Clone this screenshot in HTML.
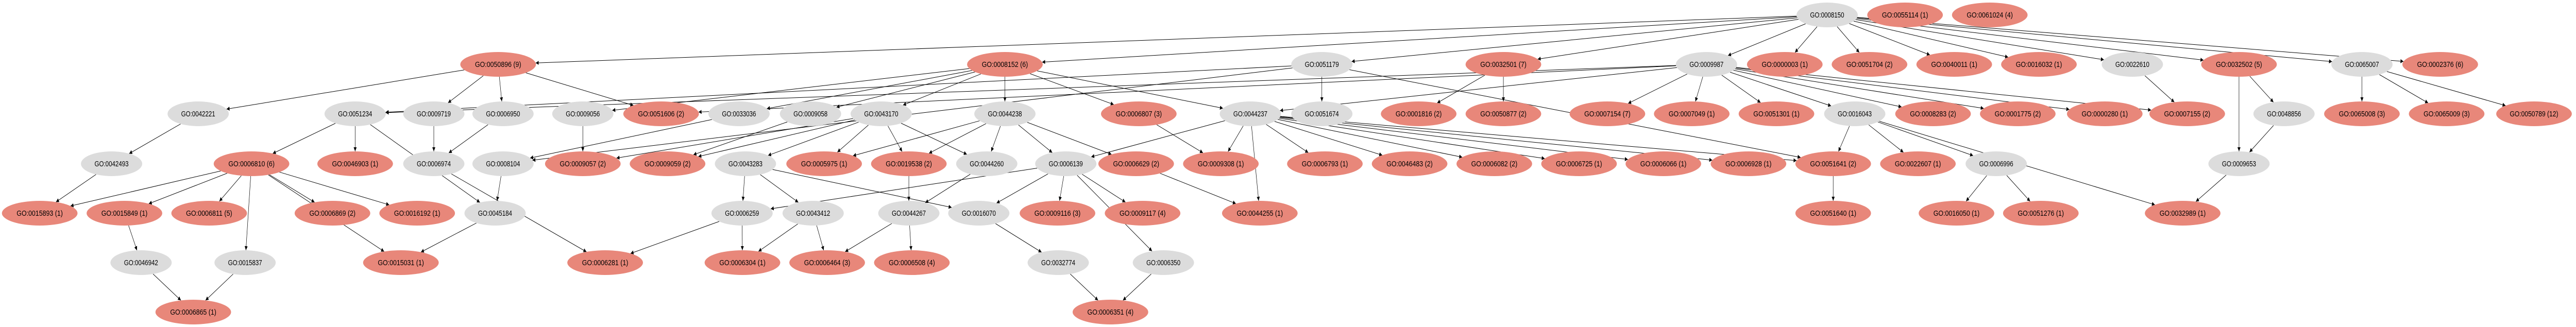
<!DOCTYPE html>
<html><head><meta charset="utf-8"><style>
html,body{margin:0;padding:0;background:#fff;width:100%;height:100%;overflow:hidden}
svg{display:block;width:100vw;height:100vh}
text{font-family:"Liberation Sans Narrow","Liberation Sans",sans-serif;font-size:15px;fill:#000}
</style></head><body>
<svg id="g" viewBox="0 0 6811 635" preserveAspectRatio="none" xmlns="http://www.w3.org/2000/svg">
<defs><marker id="a" viewBox="0 0 10 10" refX="10" refY="5" markerWidth="8" markerHeight="8" orient="auto" markerUnits="userSpaceOnUse"><path d="M0,0 L10,5 L0,10 z" fill="#000"/></marker></defs>
<g id="e"></g><g id="n"></g>
</svg>
<script>
var R=[29,125,221,318,414,510,606];
var N={
"0008150":[4831,0,0],"0055114":[5037,0,1],"0061024":[5261,0,4],
"0050896":[1317,1,9],"0008152":[2657,1,6],"0051179":[3495,1,0],"0032501":[3975,1,7],"0009987":[4512,1,0],"0000003":[4719,1,1],"0051704":[4943,1,2],"0040011":[5167,1,1],"0016032":[5391,1,1],"0022610":[5638,1,0],"0032502":[5920,1,5],"0065007":[6245,1,0],"0002376":[6452,1,6],
"0042221":[524,2,0],"0051234":[939,2,0],"0009719":[1147,2,0],"0006950":[1330,2,0],"0009056":[1541,2,0],"0051606":[1748,2,2],"0033036":[1954,2,0],"0009058":[2143,2,0],"0043170":[2330,2,0],"0044238":[2657,2,0],"0006807":[3011,2,3],"0044237":[3306,2,0],"0051674":[3495,2,0],"0001816":[3751,2,2],"0050877":[3975,2,2],"0007154":[4250,2,7],"0007049":[4473,2,1],"0051301":[4697,2,1],"0016043":[4904,2,0],"0008283":[5111,2,2],"0001775":[5335,2,2],"0000280":[5565,2,1],"0007155":[5783,2,2],"0048856":[6039,2,0],"0065008":[6245,2,3],"0065009":[6469,2,3],"0050789":[6700,2,12],
"0042493":[295,3,0],"0006810":[665,3,6],"0046903":[939,3,1],"0006974":[1147,3,0],"0008104":[1330,3,0],"0009057":[1541,3,2],"0009059":[1765,3,2],"0043283":[1971,3,0],"0005975":[2179,3,1],"0019538":[2403,3,2],"0044260":[2609,3,0],"0006139":[2818,3,0],"0006629":[3004,3,2],"0009308":[3228,3,1],"0006793":[3503,3,1],"0046483":[3727,3,2],"0006082":[3951,3,2],"0006725":[4175,3,1],"0006066":[4398,3,1],"0006928":[4623,3,1],"0051641":[4847,3,2],"0022607":[5071,3,1],"0006996":[5278,3,0],"0009653":[5920,3,0],
"0015893":[105,4,1],"0015849":[329,4,1],"0006811":[553,4,5],"0006869":[879,4,2],"0016192":[1103,4,1],"0045184":[1309,4,0],"0006259":[1962,4,0],"0043412":[2150,4,0],"0044267":[2403,4,0],"0016070":[2588,4,0],"0009116":[2796,4,3],"0009117":[3021,4,4],"0044255":[3331,4,1],"0051640":[4847,4,1],"0016050":[5173,4,1],"0051276":[5396,4,1],"0032989":[5771,4,1],
"0046942":[373,5,0],"0015837":[648,5,0],"0015031":[1060,5,1],"0006281":[1600,5,1],"0006304":[1963,5,1],"0006464":[2187,5,3],"0006508":[2411,5,4],"0032774":[2798,5,0],"0006350":[3076,5,0],
"0006865":[511,6,1],"0006351":[2936,6,4]};
var E="0008150>0050896,0008150>0008152,0008150>0051179,0008150>0032501,0008150>0009987,0008150>0000003,0008150>0051704,0008150>0040011,0008150>0016032,0008150>0022610,0008150>0032502,0008150>0065007,0008150>0002376,0050896>0042221,0050896>0009719,0050896>0006950,0050896>0051606,0051179>0051234,0051179>0051674,0051179>0008104,0051179>0051641,0008152>0009056,0008152>0033036,0008152>0009058,0008152>0043170,0008152>0044238,0008152>0006807,0008152>0044237,0032501>0001816,0032501>0050877,0009987>0044237,0009987>0051234,0009987>0051606,0009987>0007154,0009987>0007049,0009987>0051301,0009987>0016043,0009987>0008283,0009987>0001775,0009987>0000280,0009987>0007155,0042221>0042493,0042493>0015893,0051234>0006810,0051234>0046903,0051234>0045184,0009719>0006974,0006950>0006974,0006974>0006281,0008104>0045184,0045184>0015031,0006810>0015893,0006810>0015849,0006810>0006811,0006810>0015837,0006810>0015031,0006810>0006869,0006810>0016192,0015849>0046942,0046942>0006865,0015837>0006865,0009056>0009057,0033036>0008104,0009058>0009059,0043170>0009057,0043170>0009059,0043170>0043283,0043170>0005975,0043170>0019538,0043170>0044260,0044238>0005975,0044238>0019538,0044238>0044260,0044238>0006139,0043283>0006259,0043283>0043412,0043283>0016070,0006259>0006281,0006259>0006304,0043412>0006304,0043412>0006464,0044260>0044267,0019538>0044267,0044267>0006464,0044267>0006508,0016070>0032774,0006139>0006259,0006139>0016070,0006139>0009116,0006139>0009117,0006139>0006350,0032774>0006351,0006350>0006351,0006807>0009308,0044237>0006139,0044237>0009308,0044237>0044255,0044237>0006793,0044237>0046483,0044237>0006082,0044237>0006725,0044237>0006066,0044237>0006928,0044237>0051641,0006629>0044255,0044238>0006629,0016043>0051641,0016043>0022607,0016043>0006996,0016043>0032989,0051641>0051640,0006996>0016050,0006996>0051276,0022610>0007155,0032502>0009653,0032502>0048856,0048856>0009653,0009653>0032989,0065007>0065008,0065007>0065009,0065007>0050789";
var ns="http://www.w3.org/2000/svg",eg=document.getElementById("e"),ng=document.getElementById("n");
function dims(k){return N[k][2]?[100,24]:[81,24];}
function bpt(k,dx,dy){var d=dims(k),t=1/Math.sqrt(dx*dx/(d[0]*d[0])+dy*dy/(d[1]*d[1]));return [N[k][0]+dx*t,R[N[k][1]]+dy*t];}
E.split(",").forEach(function(s){var p=s.split(">"),a=p[0],b=p[1];
var x1=N[a][0],y1=R[N[a][1]],x2=N[b][0],y2=R[N[b][1]];
var s1=bpt(a,x2-x1,y2-y1),s2=bpt(b,x1-x2,y1-y2);
var l=document.createElementNS(ns,"path");
l.setAttribute("d","M"+s1[0]+","+s1[1]+" L"+s2[0]+","+s2[1]);
l.setAttribute("stroke","#000");l.setAttribute("stroke-width","1");l.setAttribute("fill","none");l.setAttribute("marker-end","url(#a)");eg.appendChild(l);});
for(var k in N){var v=N[k],d=dims(k),e=document.createElementNS(ns,"ellipse");
e.setAttribute("cx",v[0]);e.setAttribute("cy",R[v[1]]);e.setAttribute("rx",d[0]);e.setAttribute("ry",d[1]);
e.setAttribute("fill",v[2]?"#e8877a":"#dcdcdc");ng.appendChild(e);
var t=document.createElementNS(ns,"text");t.setAttribute("x",v[0]);t.setAttribute("y",R[v[1]]+5);t.setAttribute("text-anchor","middle");
var lab="GO:"+k+(v[2]?" ("+v[2]+")":"");t.textContent=lab;t.setAttribute("textLength",v[2]?(v[2]>9?128:122):90);t.setAttribute("lengthAdjust","spacingAndGlyphs");ng.appendChild(t);}
</script>
</body></html>
